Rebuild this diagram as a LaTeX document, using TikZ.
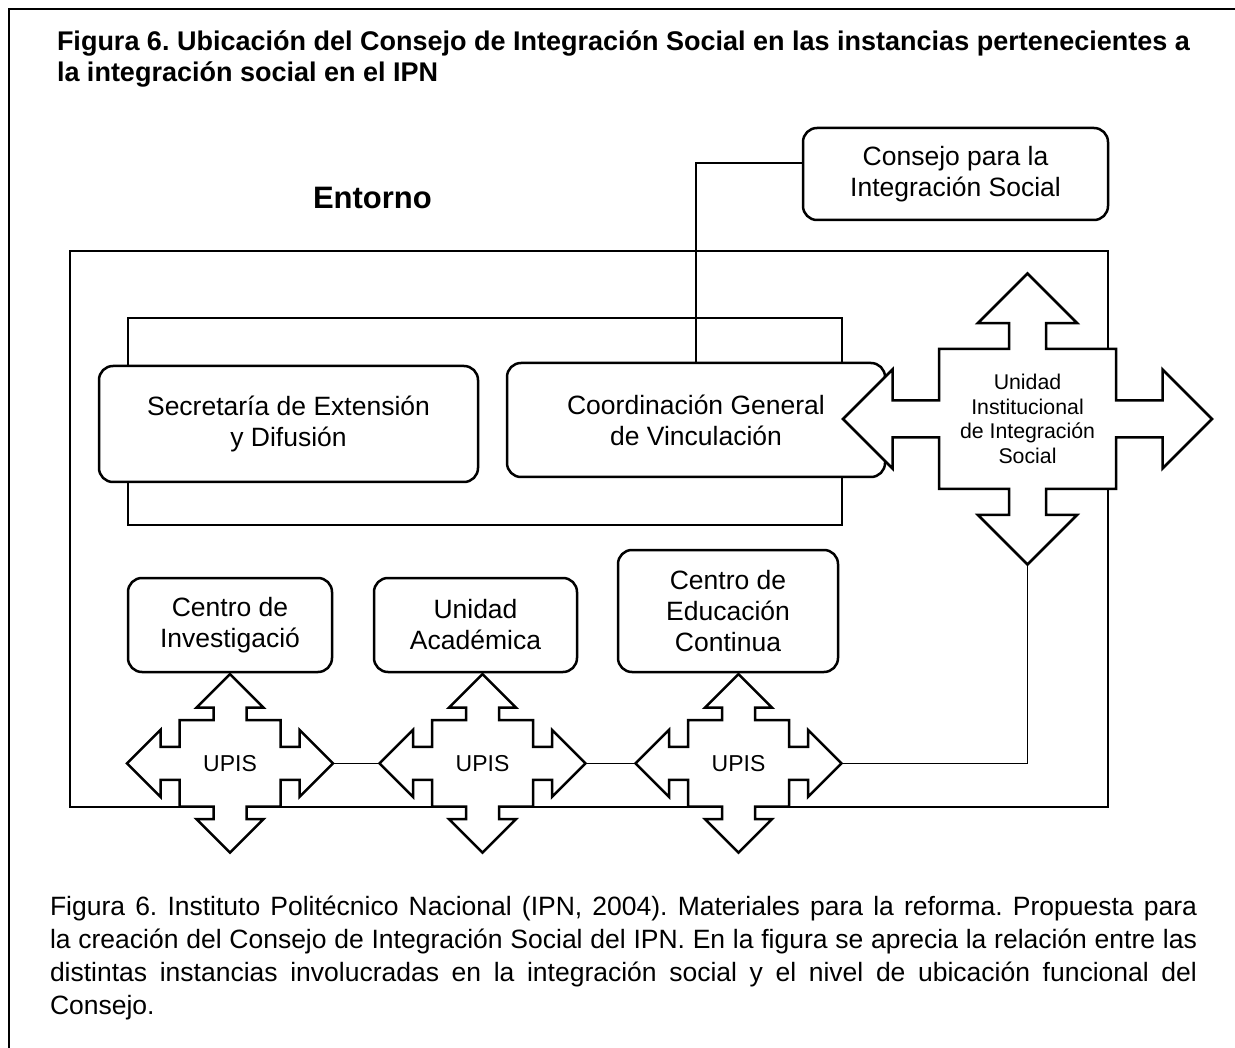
\documentclass[tikz,border=0pt]{standalone}
\usepackage{fontspec}
\setmainfont{Liberation Sans}
\usetikzlibrary{shapes.arrows}
\frenchspacing

\begin{document}
\begin{tikzpicture}[x=1pt,y=-1pt]
\tikzstyle{every node}+=[inner sep=0pt, outer sep=0pt]
\tikzstyle{caja}=[draw, line width=2.5pt, rounded corners=14pt, fill=white, align=center, font=\fontsize{26.5}{31}\selectfont]
\tikzstyle{cruz}=[draw, line width=2.5pt, fill=white, shape=arrow box, arrow box tip angle=90, align=center]
\tikzstyle{upis}=[cruz, minimum width=101pt, minimum height=86.5pt, arrow box shaft width=33pt, arrow box head extend=17pt, arrow box arrows={north:46pt, south:46pt, east:52.5pt, west:52.5pt}, font=\fontsize{23}{27}\selectfont]
\tikzstyle{enlace}=[line width=1.3pt]
\useasboundingbox (0,0) rectangle (1235,1048);
% marco de la hoja
\draw [line width=2.5pt] (1240,9) -| (9,1055);
\node [anchor=north west, align=left, font=\fontsize{27}{31}\selectfont\bfseries] (titulo) at (57,31) {Figura 6. Ubicación del Consejo de Integración Social en las instancias pertenecientes a\\la integración social en el IPN};
\node [anchor=base west, font=\fontsize{31}{36}\selectfont\bfseries] (entorno) at (313,209) {Entorno};
\node [caja, minimum width=305pt, minimum height=92pt] (consejo) at (955.5,174) {Consejo para la\\Integración Social};
% entorno y grupo superior
\draw [line width=2.5pt] (70,251) rectangle (1108,807);
\draw [line width=2.5pt] (128,318) rectangle (842,525);
\node [caja, minimum width=379pt, minimum height=116pt] (secretaria) at (288.5,424) {Secretaría de Extensión\\y Difusión};
\node [caja, minimum width=378pt, minimum height=114pt] (coord) at (696,420) {Coordinación General\\de Vinculación};
\node [caja, minimum width=204pt, minimum height=94pt] (ci) at (230,625) {Centro de\\Investigació};
\node [caja, minimum width=203pt, minimum height=94pt] (ua) at (475.5,625) {Unidad\\Académica};
\node [caja, minimum width=220pt, minimum height=122pt] (cec) at (728,611) {Centro de\\Educación\\Continua};
\draw [enlace] ([yshift=11pt]consejo.west) -| (coord.north);
% flechas en cruz
\node [cruz, minimum width=177pt, minimum height=140pt, arrow box shaft width=37pt, arrow box head extend=31pt, arrow box arrows={north:75.5pt, south:75.5pt, east:96pt, west:96pt}, font=\fontsize{21.3}{24.5}\selectfont] (uiis) at (1027.5,419) {Unidad\\Institucional\\de Integración\\Social};
\node [upis] (upis1) at (230,763.3) {UPIS};
\node [upis] (upis2) at (482.5,763.3) {UPIS};
\node [upis] (upis3) at (738.5,763.3) {UPIS};
\draw [enlace] (upis1.east arrow tip) -- (upis2.west arrow tip);
\draw [enlace] (upis2.east arrow tip) -- (upis3.west arrow tip);
\draw [enlace] (upis3.east arrow tip) -| (uiis.south arrow tip);
\node [anchor=north west, text width=1147pt, align=justify, font=\fontsize{26.5}{33}\selectfont] (pie) at (50,896) {\tolerance=9999 Figura 6. Instituto Politécnico Nacional (IPN, 2004). Materiales para la reforma. Propuesta para\linebreak la creación del Consejo de Integración Social del IPN. En la figura se aprecia la relación entre las\linebreak distintas instancias involucradas en la integración social y el nivel de ubicación funcional del\linebreak Consejo.};
\end{tikzpicture}
\end{document}
